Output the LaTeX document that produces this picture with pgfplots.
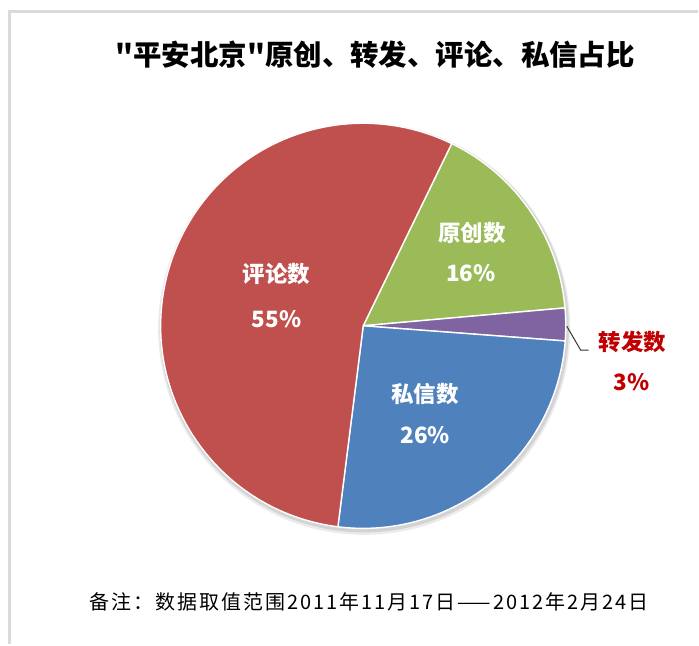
\documentclass[border=0pt]{standalone}
\usepackage{pgfplots}
\pgfplotsset{compat=1.18}
\usepackage{pgfplotstable}
\usepackage{fontspec}
\setmainfont{Noto Sans CJK SC}
\newfontfamily\cjk{Noto Sans CJK SC}
\newfontfamily\notefont[LetterSpace=10]{Noto Sans CJK SC}
\definecolor{cGreen}{HTML}{9BBB59}
\definecolor{cPurple}{HTML}{8064A2}
\definecolor{cBlue}{HTML}{4F81BD}
\definecolor{cRed}{HTML}{C0504D}
\definecolor{cLabel}{HTML}{C00000}
\definecolor{cFrame}{HTML}{DADADA}

% share of each category (percent), clockwise from the first slice
\pgfplotstableread{
name value color
原创数 16.4 cGreen
转发数 2.6 cPurple
私信数 25.8 cBlue
评论数 55.2 cRed
}\piedata

\begin{document}
\begin{tikzpicture}
\begin{axis}[
  x=1pt, y=1pt,
  xmin=0, xmax=699, ymin=0, ymax=645,
  hide axis, clip=false,
]
\pgfplotsextra{
  \path (axis cs:0,0) rectangle (axis cs:699,645);
  % chart frame
  \draw[cFrame, line width=3pt] (axis cs:10,0) -- (axis cs:10,633.5) -- (axis cs:699,633.5);
  % soft shadow
  \fill[black, opacity=0.10] (axis cs:365,316.5) circle[radius=205pt];
  \fill[black, opacity=0.08] (axis cs:365,315.5) circle[radius=206.5pt];
  % slices
  \gdef\cum{64.1}
  \foreach \i in {0,...,3} {
    \pgfplotstablegetelem{\i}{value}\of{\piedata}\let\v\pgfplotsretval
    \pgfplotstablegetelem{\i}{color}\of{\piedata}\let\c\pgfplotsretval
    \pgfmathsetmacro\e{\cum-3.6*\v}
    \fill[fill=\c, draw=white, line width=1.4pt, line join=round]
      (axis cs:364,318.5) -- ++(\cum:203pt) arc[start angle=\cum, end angle=\e, radius=203pt] -- cycle;
    \global\let\cum\e
  }
  % leader line
  \draw[black!80, line width=1pt] (axis cs:568,318) -- (axis cs:582,294) -- (axis cs:590,294);
  % title
  \node[font=\cjk\bfseries\fontsize{28.5}{32}\selectfont] at (axis cs:376,590) {"平安北京"原创、转发、评论、私信占比};
  % data labels
  \tikzset{lab/.style={font=\cjk\bfseries\fontsize{22.5}{26}\selectfont}}
  \node[white, lab] at (axis cs:277,370) {评论数};
  \node[white, lab] at (axis cs:277,325) {55\%};
  \node[white, lab] at (axis cs:473,412) {原创数};
  \node[white, lab] at (axis cs:472,371) {16\%};
  \node[white, lab] at (axis cs:426,250) {私信数};
  \node[white, lab] at (axis cs:426,209) {26\%};
  \node[cLabel, lab] at (axis cs:634,302) {转发数};
  \node[cLabel, lab] at (axis cs:633,262) {3\%};
  % note
  \node[font=\notefont\fontsize{20}{23}\selectfont] at (axis cs:370,42) {备注：数据取值范围2011年11月17日——2012年2月24日};
}
\end{axis}
\end{tikzpicture}
\end{document}
